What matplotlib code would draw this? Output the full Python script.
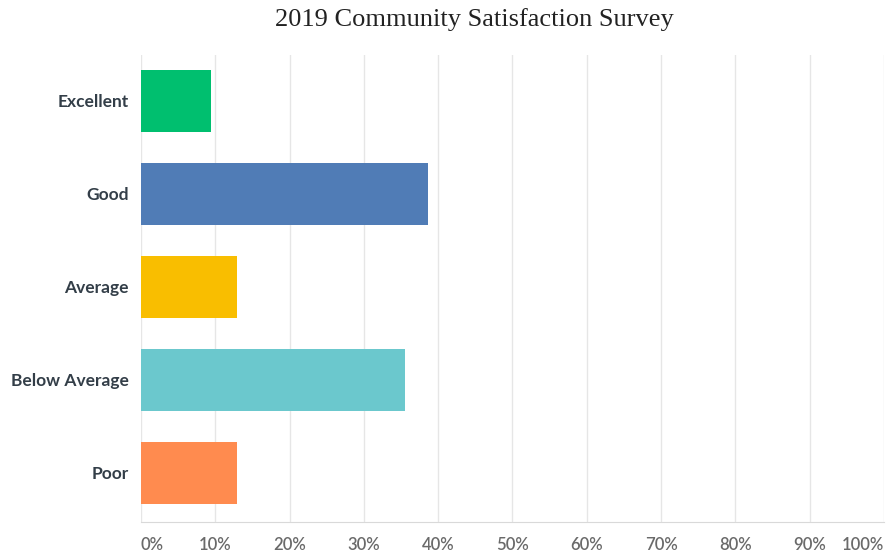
import matplotlib.pyplot as plt
import numpy as np

categories = ["Excellent", "Good", "Average", "Below Average", "Poor"]
percentages = [9.4, 38.6, 12.9, 35.6, 12.9]
colors = ["#00BF6F", "#507CB6", "#F9BE00", "#6BC8CD", "#FF8B4F"]
x_ticks = [0, 10, 20, 30, 40, 50, 60, 70, 80, 90, 100]
x_tick_labels = ["{}%".format(t) for t in x_ticks]

fig = plt.figure(figsize=(8.86, 5.57), dpi=100)
ax = fig.add_axes([0.1591, 0.0628, 0.8386, 0.8384])

y_pos = np.arange(len(categories))
ax.barh(y_pos, percentages, height=0.667, color=colors, zorder=3)

ax.set_xlim(0, 100)
ax.set_ylim(4.53, -0.49)

ax.set_xticks(x_ticks)
ax.set_xticklabels(x_tick_labels, family="Lato", fontweight="semibold",
                   fontsize=12, color="#6a6a6a")
labels = ax.get_xticklabels()
labels[0].set_ha("left")
labels[-1].set_ha("right")
ax.tick_params(axis="x", length=0, pad=11)

ax.set_yticks(y_pos)
ax.set_yticklabels(categories, family="Lato", fontweight="bold", fontsize=12.5,
                   color="#333e48")
ax.tick_params(axis="y", length=0, pad=9)

ax.grid(axis="x", color="#e6e6e6", linewidth=1, zorder=0)
for side in ["top", "right", "left"]:
    ax.spines[side].set_visible(False)
ax.spines["bottom"].set_color("#d9d9d9")

fig.suptitle("2019 Community Satisfaction Survey", family="Liberation Serif",
             fontsize=19, color="#222222", x=0.535, y=0.985, va="top")

fig.savefig("out.png", dpi=100)
